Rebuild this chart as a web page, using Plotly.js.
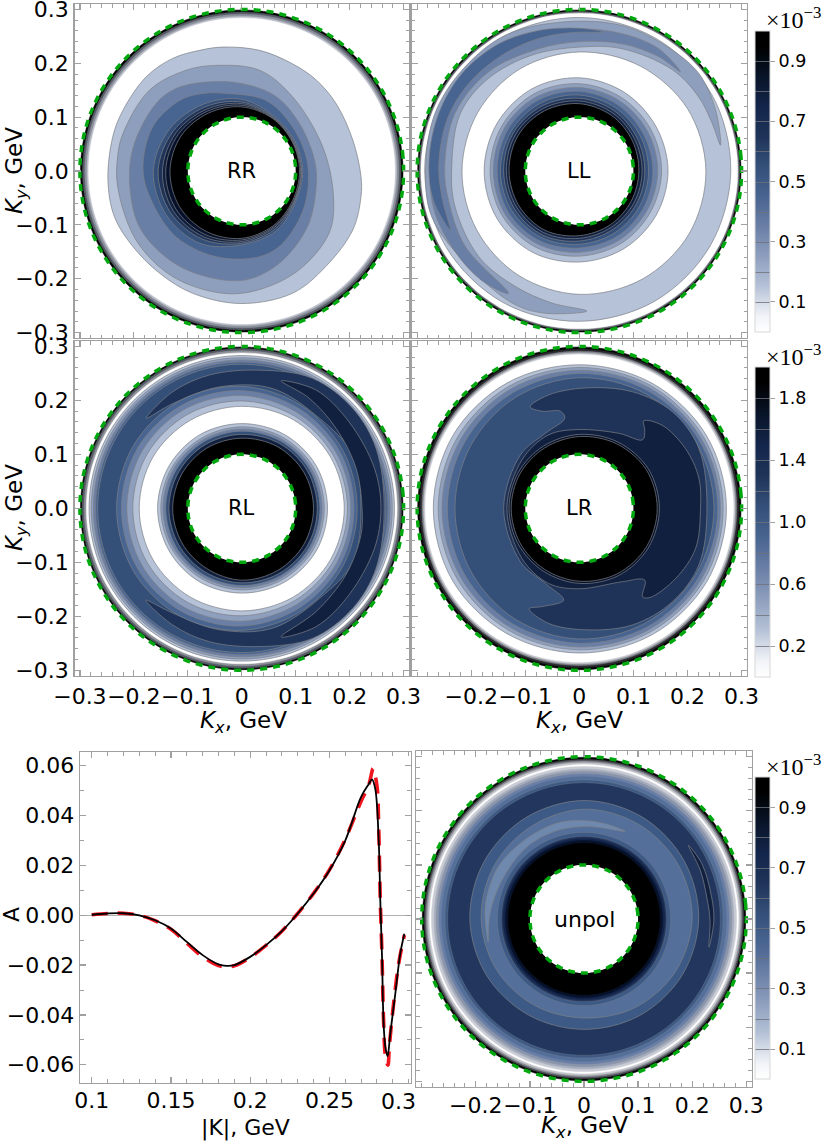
<!DOCTYPE html>
<html><head><meta charset="utf-8"><script src="https://cdn.plot.ly/plotly-3.0.1.min.js"></script>
<style>html,body{margin:0;padding:0;background:#fff}</style></head><body><div id="chart" style="width:822px;height:1143px"></div>
<script>
// ---------- values ----------
const ringAngles=[0,30,60,90,120,150,180,210,240,270,300,330];
const holeRadius=0.1, edgeRadius=0.3;
const bandColors=['#ffffff','#b5c2d7','#8e9fbe','#6a7fa6','#486490','#345079','#1f3358','#10203e','#07122a','#000000'];

// RR: iso-lines
const rrRim=[['#000000',.299],['#555a64',.295],['#8b909c',.291],['#bfc3cc',.287],['#ffffff',.284]];
const rrB1=[[-.035,.23],[.033,.224],[.094,.199],[.138,.169],[.175,.125],[.206,.057],[.221,-.01],[.221,-.048],[.206,-.109],[.156,-.177],[.094,-.227],[-.001,-.246],[-.091,-.227],[-.152,-.19],[-.202,-.14],[-.236,-.085],[-.248,-.017],[-.239,.064],[-.22,.113],[-.177,.175],[-.128,.209],[-.078,.224]];
const rrB2=[[-.048,.196],[.033,.187],[.094,.138],[.15,.045],[.17,-.048],[.162,-.115],[.107,-.183],[.033,-.22],[-.035,-.227],[-.128,-.196],[-.196,-.128],[-.23,-.029],[-.23,.027],[-.22,.07],[-.171,.15],[-.103,.187]];
const rrB3=[[-.066,.165],[.002,.162],[.064,.138],[.107,.088],[.135,.02],[.138,-.029],[.122,-.103],[.07,-.171],[.008,-.202],[-.066,-.196],[-.134,-.165],[-.19,-.103],[-.208,-.017],[-.199,.051],[-.159,.125],[-.122,.153]];
const rrB4=[[-.029,.144],[.045,.131],[.094,.082],[.122,.014],[.116,-.066],[.076,-.134],[.033,-.159],[-.048,-.159],[-.122,-.122],[-.165,-.06],[-.183,.002],[-.165,.082],[-.115,.131],[-.072,.144]];
const rrB5=[.113,.113,.118,.133,.143,.155,.164,.162,.155,.137,.128,.115];
const rrB6=[.111,.111,.116,.128,.137,.147,.155,.153,.146,.134,.124,.113];
const rrB7=[.11,.11,.115,.125,.132,.141,.147,.147,.141,.131,.121,.112];
const rrB8=[.109,.109,.114,.122,.128,.136,.141,.141,.136,.128,.119,.111];
const rrB9=[.107,.108,.113,.119,.124,.13,.133,.133,.13,.125,.117,.109];

// LL
const llRim=[['#000000',.299],['#6a6d75',.296],['#ffffff',.293]];
const llOuter=[.28,.283,.284,.285,.286,.286,.286,.284,.282,.279,.279,.279];
const llBand2=[[.261,.048],[.252,.113],[.221,.181],[.159,.233],[.079,.27],[-.026,.277],[-.137,.252],[-.217,.187],[-.267,.107],[-.284,.008],[-.273,-.085],[-.199,-.183],[-.119,-.248],[-.063,-.264],[.014,-.26],[-.051,-.245],[-.119,-.214],[-.186,-.159],[-.23,-.066],[-.236,.008],[-.22,.107],[-.168,.172],[-.088,.215],[0,.23],[.079,.227],[.172,.188],[.221,.137],[.245,.09]];
const llBand3=[[.187,.184],[.147,.227],[.079,.255],[-.014,.264],[-.119,.246],[-.205,.187],[-.254,.107],[-.276,.008],[-.267,-.078],[-.223,-.159],[-.174,-.208],[-.131,-.227],[-.211,-.14],[-.242,-.054],[-.249,.008],[-.23,.107],[-.168,.184],[-.075,.227],[-.001,.24],[.079,.236],[.147,.212]];
const llBand4=[[.045,.258],[-.001,.265],[-.075,.261],[-.149,.236],[-.217,.181],[-.26,.107],[-.278,.02],[-.27,-.054],[-.239,-.109],[-.253,-.054],[-.26,.008],[-.245,.094],[-.205,.162],[-.143,.215],[-.075,.246],[-.014,.257]];
const llWhite=[.234,.231,.225,.221,.219,.217,.217,.219,.224,.229,.232,.234];
const llC1=[.164,.164,.168,.173,.176,.176,.176,.176,.174,.169,.166,.164];
const llC2=[.152,.153,.157,.162,.166,.166,.165,.165,.163,.158,.155,.152];
const llC3=[.145,.146,.15,.155,.159,.16,.159,.159,.156,.151,.148,.145];
const llC4=[.136,.137,.142,.148,.152,.153,.152,.152,.149,.143,.14,.137];
const llC5=[.128,.13,.135,.141,.145,.146,.146,.145,.142,.136,.132,.129];
const llC6=[.121,.123,.129,.135,.139,.141,.14,.139,.137,.13,.125,.122];
const llC7=[.116,.118,.124,.13,.134,.136,.135,.134,.132,.125,.12,.117];
const llC9=[.11,.113,.119,.125,.129,.131,.13,.129,.127,.12,.115,.111];

// RL
const rlRim=[['#000000',.299],['#555a64',.296],['#8f929a',.292],['#ffffff',.288]];
const rlOuter=[[1,.283],[2,.279],[3,.275],[4,.271],[5,.267]];
const rlBand6=[[-.177,.167],[-.128,.216],[-.06,.247],[.033,.256],[.131,.241],[.206,.185],[.249,.111],[.264,0],[.249,-.111],[.206,-.185],[.131,-.241],[.033,-.256],[-.06,-.247],[-.128,-.216],[-.178,-.17],[-.128,-.194],[-.041,-.225],[.057,-.222],[.144,-.167],[.206,-.099],[.221,0],[.206,.099],[.144,.167],[.057,.222],[-.041,.225],[-.128,.194]];
const rlBand7=[[.073,.236],[.138,.219],[.199,.16],[.246,.074],[.258,0],[.246,-.074],[.199,-.16],[.138,-.219],[.073,-.238],[.138,-.191],[.193,-.123],[.221,-.049],[.223,0],[.212,.074],[.175,.148],[.125,.204]];
const rlIn4=[.214,.216,.22,.226,.23,.232,.232,.232,.23,.226,.22,.216];
const rlIn3=[.208,.21,.213,.218,.221,.223,.223,.223,.221,.218,.213,.21];
const rlIn2=[.202,.203,.205,.209,.212,.213,.213,.213,.212,.209,.205,.203];
const rlIn1=[.196,.196,.197,.199,.201,.202,.202,.202,.201,.199,.197,.196];
const rlWhite=[.19,.19,.19,.189,.189,.19,.19,.19,.19,.19,.19,.19];
const rlC1=[.159,.159,.158,.157,.157,.156,.156,.156,.157,.157,.158,.159];
const rlC2=[.153,.153,.152,.151,.15,.15,.15,.15,.15,.151,.152,.153];
const rlC3=[.149,.149,.148,.147,.146,.146,.146,.146,.146,.147,.148,.149];
const rlC5=[.145,.145,.144,.143,.142,.141,.141,.141,.142,.143,.144,.145];
const rlC7=[.14,.14,.139,.137,.136,.135,.135,.135,.136,.138,.139,.14];
const rlC9=[.133,.133,.132,.13,.129,.128,.128,.128,.129,.133,.133,.133];

// LR
const lrRim=[['#000000',.299],['#2a2a2e',.295],['#83868e',.291],['#c6c8ce',.288],['#ffffff',.285]];
const lrB1=[.272,.271,.268,.266,.268,.27,.27,.27,.268,.268,.27,.272];
const lrB2=[.266,.265,.263,.261,.261,.261,.261,.261,.261,.262,.264,.266];
const lrB3=[.261,.26,.258,.256,.255,.254,.254,.254,.255,.257,.259,.261];
const lrB4=[.256,.255,.252,.25,.247,.245,.244,.245,.247,.25,.253,.255];
const lrB5=[.249,.248,.245,.242,.237,.232,.23,.232,.237,.242,.245,.248];
const lrBand6=[[-.091,.188],[-.057,.21],[.011,.223],[.098,.216],[.172,.179],[.221,.111],[.236,0],[.221,-.105],[.172,-.173],[.098,-.216],[.011,-.225],[-.057,-.213],[-.093,-.186],[-.069,-.182],[-.029,-.17],[-.063,-.139],[-.109,-.099],[-.14,0],[-.109,.099],[-.063,.139],[-.027,.167],[-.035,.18],[-.069,.18]];
const lrBand7=[[.119,.162],[.153,.154],[.196,.111],[.221,.056],[.224,0],[.215,-.074],[.178,-.13],[.131,-.165],[.117,-.164],[.121,-.133],[.079,-.136],[-.001,-.149],[-.057,-.139],[-.106,-.093],[-.134,0],[-.106,.09],[-.057,.136],[-.001,.146],[.073,.139],[.117,.127],[.121,.145]];
const lrC8=[.148,.147,.142,.137,.133,.131,.13,.131,.134,.139,.144,.147];
const lrC9=[.144,.143,.138,.133,.129,.127,.126,.127,.13,.135,.14,.143];

// unpolarised
const unRim=[['#000000',.299],['#4a4c52',.295],['#8d9098',.292],['#c4c6cc',.289],['#ffffff',.2855],['#c9ccd4',.282],['#a6adbc',.277],['#8a95ab',.273]];
const unOuter=[['#6a7fa6',.268],['#54709a',.263],['#3c5a85',.257],['#23375e',.252]];
const unIn5=[.212,.214,.217,.219,.216,.213,.211,.208,.205,.204,.206,.209];
const unIn4=[.2,.201,.202,.203,.197,.193,.19,.187,.184,.183,.189,.195];
const unSliver=[[.193,.136],[.218,.102],[.236,.04],[.24,-.003],[.231,-.052],[.233,-.003],[.227,.04],[.215,.09]];
const unCrescent=[[.076,.162],[.039,.176],[-.004,.182],[-.054,.176],[-.115,.142],[-.159,.096],[-.18,.04],[-.183,.009],[-.177,-.043],[-.174,.009],[-.152,.071],[-.109,.13],[-.054,.162],[.008,.171]];
const unCore=[['#3c5a85',.16],['#23375e',.153],['#13254a',.149],['#07122a',.145],['#000000',.14]];

// asymmetry curves
const kBlack=[.1,.11,.12,.13,.14,.15,.16,.17,.18,.185,.19,.2,.21,.22,.23,.24,.25,.26,.27,.275,.2768,.2789,.2811,.2821,.2832,.2842,.2853,.2867,.2884,.2916,.2947,.2973];
const aBlack=[.0002,.0007,.0008,0,-.002,-.0053,-.0107,-.016,-.0197,-.0203,-.02,-.0167,-.012,-.0064,.0007,.0087,.018,.03,.0475,.0528,.0545,.0508,.0301,.006,-.0167,-.0435,-.0528,-.0566,-.0475,-.0314,-.0154,-.0074];
const kRed=[.1,.11,.12,.13,.14,.15,.16,.17,.18,.185,.19,.2,.21,.22,.23,.24,.25,.26,.27,.2747,.2768,.2775,.28,.2811,.2821,.2832,.2842,.2853,.2869,.2879,.2905,.2937,.2973];
const aRed=[.0002,.0007,.0008,0,-.0022,-.0056,-.0112,-.0167,-.0202,-.0206,-.0203,-.0169,-.0121,-.0064,.0007,.0088,.0182,.0305,.0458,.052,.0575,.0589,.052,.0355,.006,-.0167,-.0425,-.0562,-.0602,-.052,-.0355,-.0194,-.008];

// tick labels and colour bars
const kTicks=[-.3,-.2,-.1,0,.1,.2,.3];
const kTicksNoFirst=[-.2,-.1,0,.1,.2,.3];
const xText=['−0.3','−0.2','−0.1','0','0.1','0.2','0.3'];
const xTextNoFirst=['−0.2','−0.1','0','0.1','0.2','0.3'];
const yText=['−0.3','−0.2','−0.1','0.0','0.1','0.2','0.3'];
const absTicks=[.1,.15,.2,.25];
const absText=['0.1','0.15','0.2','0.25'];
const aTicks=[-.06,-.04,-.02,0,.02,.04,.06];
const aText=['−0.06','−0.04','−0.02','0.00','0.02','0.04','0.06'];
const bar1Ticks=[.1,.3,.5,.7,.9];
const bar2Ticks=[.2,.6,1.0,1.4,1.8];
const bar2Text=['0.2','0.6','1.0','1.4','1.8'];
const barScale=[[0,'#ffffff'],[.05,'#f2f4f8'],[.1,'#d5dce8'],[.15,'#b5c2d7'],[.25,'#8e9fbe'],[.35,'#6a7fa6'],[.45,'#486490'],[.55,'#345079'],[.65,'#1f3358'],[.75,'#13254a'],[.85,'#081428'],[.95,'#000000'],[1,'#000000']];

// ---------- layers, painted in this order ----------
const rrLayers=[...rrRim,[1,rrB1],[2,rrB2],[3,rrB3],[4,rrB4],[5,rrB5],[6,rrB6],[7,rrB7],[8,rrB8],[9,rrB9]];
const llLayers=[...llRim,[1,llOuter],[2,llBand2],[3,llBand3],[4,llBand4],[0,llWhite],[1,llC1],[2,llC2],[3,llC3],[4,llC4],[5,llC5],[6,llC6],[7,llC7],[9,llC9]];
const rlLayers=[...rlRim,...rlOuter,[6,rlBand6],[7,rlBand7],[4,rlIn4],[3,rlIn3],[2,rlIn2],[1,rlIn1],[0,rlWhite],[1,rlC1],[2,rlC2],[3,rlC3],[5,rlC5],[7,rlC7],[9,rlC9]];
const lrLayers=[...lrRim,[1,lrB1],[2,lrB2],[3,lrB3],[4,lrB4],[5,lrB5],[6,lrBand6],[7,lrBand7],[8,lrC8],[9,lrC9]];
const unLayers=[...unRim,...unOuter,['#3c5a85',unIn5],['#54709a',unIn4],['#6f88ad',unCrescent],['#10203e',unSliver],...unCore];

// ---------- drawing ----------
const W=822,H=1143,GRAY='#a0a0a0',FONT='"DejaVu Sans",sans-serif',LINE='rgba(125,128,135,0.7)';
const rad=d=>d*Math.PI/180;
function circle(r){const x=[],y=[];for(let a=0;a<360;a+=5){x.push(r*Math.cos(rad(a)));y.push(r*Math.sin(rad(a)));}x.push(x[0]);y.push(y[0]);return{x,y};}
function shapeXY(s){
  if(typeof s==='number')return circle(s);
  if(Array.isArray(s[0])){const p=[...s,s[0]];return{x:p.map(q=>q[0]),y:p.map(q=>q[1])};}
  const idx=[0,1,2,3,4,5,6,7,8,9,10,11,0];
  return{x:idx.map(i=>s[i]*Math.cos(rad(ringAngles[i]))),y:idx.map(i=>s[i]*Math.sin(rad(ringAngles[i])))};
}
const traces=[];
function panelTraces(layers,ax,ay){
  layers.forEach(([c,s])=>{
    const {x,y}=shapeXY(s);const band=typeof c==='number'||typeof s!=='number';
    const fill=typeof c==='number'?bandColors[c]:c;
    traces.push({type:'scatter',mode:'lines',x,y,xaxis:ax,yaxis:ay,fill:'toself',fillcolor:fill,
      line:{shape:'spline',smoothing:1,color:(band||c==='#23375e'||c==='#3c5a85')?LINE:fill,width:band?1:0.5},hoverinfo:'skip',showlegend:false});
  });
  {const {x,y}=circle(holeRadius);traces.push({type:'scatter',mode:'lines',x,y,xaxis:ax,yaxis:ay,fill:'toself',fillcolor:'#ffffff',line:{shape:'spline',color:'#ffffff',width:0},hoverinfo:'skip',showlegend:false});}
  [holeRadius,edgeRadius].forEach(r=>{const {x,y}=circle(r);traces.push({type:'scatter',mode:'lines',x,y,xaxis:ax,yaxis:ay,line:{shape:'spline',color:'#00a80f',width:3.5,dash:'7px,6px'},hoverinfo:'skip',showlegend:false});});
}
panelTraces(rrLayers,'x','y');
panelTraces(llLayers,'x2','y2');
panelTraces(rlLayers,'x3','y3');
panelTraces(lrLayers,'x4','y4');
panelTraces(unLayers,'x6','y6');
traces.push({type:'scatter',mode:'lines',x:kRed,y:aRed,xaxis:'x5',yaxis:'y5',line:{shape:'spline',color:'#f0141e',width:3.6,dash:'16px,10px'},hoverinfo:'skip',showlegend:false});
traces.push({type:'scatter',mode:'lines',x:kBlack,y:aBlack,xaxis:'x5',yaxis:'y5',line:{shape:'spline',color:'#000000',width:1.8},hoverinfo:'skip',showlegend:false});

function bar(ax,ay,zmax,step,tv,tt,top,len){
  traces.push({type:'contour',x:[5,6],y:[5,6],z:[[0,zmax],[0,zmax]],xaxis:ax,yaxis:ay,zmin:0,zmax,zauto:false,colorscale:barScale,hoverinfo:'skip',
    contours:{coloring:'heatmap',start:step,end:zmax-step,size:step,showlines:true},line:{color:'rgba(110,112,120,0.8)',width:1},
    colorbar:{x:755/W,xanchor:'left',xpad:0,ypad:0,y:1-top/H,yanchor:'top',thickness:15,thicknessmode:'pixels',len,lenmode:'pixels',
      tickmode:'array',tickvals:tv,ticktext:tt,ticks:'outside',ticklen:5,tickwidth:1,tickcolor:GRAY,tickfont:{family:FONT,size:17.5,color:'#000'},
      outlinecolor:'#d8d8d8',outlinewidth:1,borderwidth:0}});
}
bar('x2','y2',1,.1,bar1Ticks,bar1Ticks.map(String),31,301);
bar('x4','y4',2,.2,bar2Ticks,bar2Text,367,310);
bar('x6','y6',1,.1,bar1Ticks,bar1Ticks.map(String),777.3,302);

function axis(px0,px1,total,flip,extra){
  const d=flip?[1-px1/total,1-px0/total]:[px0/total,px1/total];
  return Object.assign({domain:d,showline:true,mirror:'allticks',linecolor:GRAY,linewidth:1.4,showgrid:false,zeroline:false,
    ticks:'inside',ticklen:6,tickwidth:1.2,tickcolor:GRAY,tickangle:0,tickmode:'array',tickfont:{family:FONT,size:22,color:'#000'}},extra);
}
const kMinor={tickmode:'linear',tick0:0,dtick:.02,ticks:'inside',ticklen:3.5,tickwidth:1,tickcolor:GRAY,showgrid:false};
const kAxis=(ticks,text,standoff)=>({range:[-.31,.31],tickvals:ticks,ticktext:text||undefined,showticklabels:!!text,ticklabelstandoff:standoff||0,minor:kMinor});
const KX='<i>K<sub>x</sub></i>, GeV',KY='<i>K<sub>y</sub></i>, GeV';
const pxNote=(text,px,py,size,family,angle)=>({text,x:px/W,y:1-py/H,xref:'paper',yref:'paper',xanchor:'center',yanchor:'middle',showarrow:false,textangle:angle||0,font:{family:family||FONT,size:size||22,color:'#000'}});
const layout={width:W,height:H,margin:{l:0,r:0,t:0,b:0},paper_bgcolor:'#fff',plot_bgcolor:'#fff',showlegend:false,
  xaxis: axis(74.5,409,W,false,{anchor:'y',...kAxis(kTicks)}),
  yaxis: axis(4,338,H,true,{anchor:'x',...kAxis(kTicks,yText)}),
  xaxis2:axis(411.7,747,W,false,{anchor:'y2',...kAxis(kTicks)}),
  yaxis2:axis(4,338,H,true,{anchor:'x2',...kAxis(kTicks)}),
  xaxis3:axis(74.5,409,W,false,{anchor:'y3',...kAxis(kTicks,xText,0)}),
  yaxis3:axis(341,675.7,H,true,{anchor:'x3',...kAxis(kTicks,yText)}),
  xaxis4:axis(411.7,747,W,false,{anchor:'y4',...kAxis(kTicksNoFirst,xTextNoFirst,0)}),
  yaxis4:axis(341,675.7,H,true,{anchor:'x4',...kAxis(kTicks)}),
  xaxis5:axis(80,410.7,W,false,{anchor:'y5',range:[.0926,.3013],tickvals:absTicks,ticktext:absText,ticklabelstandoff:-3,
    minor:{tickmode:'linear',tick0:0,dtick:.01,ticks:'inside',ticklen:3.5,tickwidth:1,tickcolor:GRAY,showgrid:false}}),
  yaxis5:axis(752.3,1082.7,H,true,{anchor:'x5',range:[-.0672,.0654],tickvals:aTicks,ticktext:aText,zeroline:true,zerolinecolor:'#b0b0b0',zerolinewidth:1,
    minor:{tickmode:'linear',tick0:0,dtick:.01,ticks:'inside',ticklen:3.5,tickwidth:1,tickcolor:GRAY,showgrid:false}}),
  xaxis6:axis(416.3,751.7,W,false,{anchor:'y6',...kAxis(kTicksNoFirst,xTextNoFirst,-2)}),
  yaxis6:axis(751.3,1086.7,H,true,{anchor:'x6',...kAxis(kTicks)}),
  annotations:[
    ...[['RR','x','y'],['LL','x2','y2'],['RL','x3','y3'],['LR','x4','y4'],['unpol','x6','y6']].map(([t,a,b])=>({text:t,x:0,y:0,xref:a,yref:b,showarrow:false,font:{family:FONT,size:t==='unpol'?22:21,color:'#000'}})),
    pxNote('×10<sup>−3</sup>',793,18,24,'"Liberation Serif",serif'),
    pxNote('×10<sup>−3</sup>',793,355,24,'"Liberation Serif",serif'),
    pxNote('×10<sup>−3</sup>',793,765,24,'"Liberation Serif",serif'),
    pxNote('0.3',398,1101),
    pxNote(KY,16,171,23,FONT,-90),pxNote(KY,16,508,23,FONT,-90),
    pxNote(KX,243,722,23),pxNote(KX,579,722,23),pxNote(KX,584,1127,23),
    pxNote('|K|, GeV',245,1128),pxNote('A',12,915,22,FONT,-90)
  ]};
Plotly.newPlot('chart',traces,layout,{displayModeBar:false,staticPlot:true});
</script></body></html>
